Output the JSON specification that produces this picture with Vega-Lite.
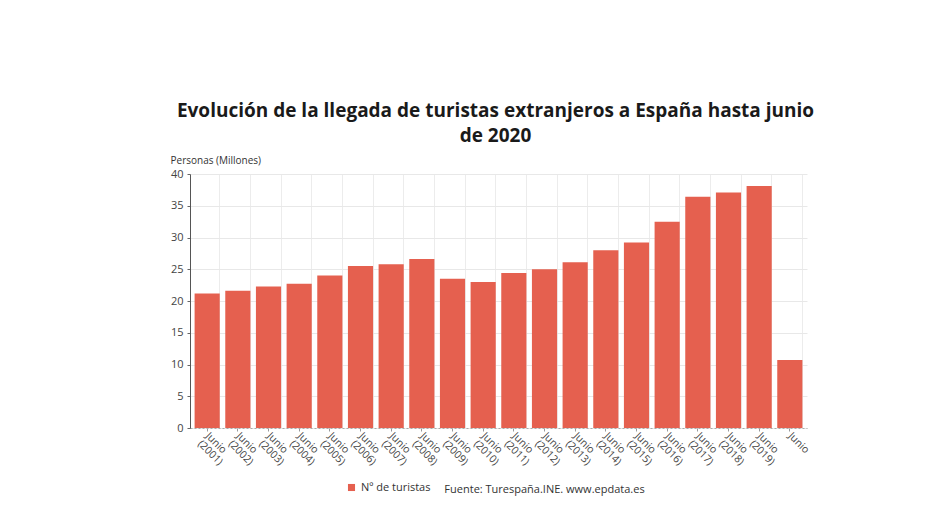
{
  "$schema": "https://vega.github.io/schema/vega-lite/v6.json",
  "autosize": "none",
  "width": 617,
  "height": 254,
  "padding": {"left": 190, "top": 174, "right": 133, "bottom": 101},
  "background": "white",
  "config": {
    "font": "Open Sans",
    "view": {"stroke": null}
  },
  "title": {
    "text": ["Evolución de la llegada de turistas extranjeros a España hasta junio", "de 2020"],
    "font": "Open Sans",
    "fontSize": 19,
    "fontWeight": "bold",
    "color": "#1a1a1a",
    "anchor": "middle",
    "dx": -3,
    "lineHeight": 25,
    "offset": 9
  },
  "data": {
    "values": [
      {"periodo": "Junio (2001)", "serie": "Nº de turistas", "turistas": 21.2},
      {"periodo": "Junio (2002)", "serie": "Nº de turistas", "turistas": 21.6},
      {"periodo": "Junio (2003)", "serie": "Nº de turistas", "turistas": 22.3},
      {"periodo": "Junio (2004)", "serie": "Nº de turistas", "turistas": 22.7},
      {"periodo": "Junio (2005)", "serie": "Nº de turistas", "turistas": 24.0},
      {"periodo": "Junio (2006)", "serie": "Nº de turistas", "turistas": 25.5},
      {"periodo": "Junio (2007)", "serie": "Nº de turistas", "turistas": 25.8},
      {"periodo": "Junio (2008)", "serie": "Nº de turistas", "turistas": 26.6},
      {"periodo": "Junio (2009)", "serie": "Nº de turistas", "turistas": 23.5},
      {"periodo": "Junio (2010)", "serie": "Nº de turistas", "turistas": 23.0},
      {"periodo": "Junio (2011)", "serie": "Nº de turistas", "turistas": 24.4},
      {"periodo": "Junio (2012)", "serie": "Nº de turistas", "turistas": 25.0},
      {"periodo": "Junio (2013)", "serie": "Nº de turistas", "turistas": 26.1},
      {"periodo": "Junio (2014)", "serie": "Nº de turistas", "turistas": 28.0},
      {"periodo": "Junio (2015)", "serie": "Nº de turistas", "turistas": 29.2},
      {"periodo": "Junio (2016)", "serie": "Nº de turistas", "turistas": 32.5},
      {"periodo": "Junio (2017)", "serie": "Nº de turistas", "turistas": 36.4},
      {"periodo": "Junio (2018)", "serie": "Nº de turistas", "turistas": 37.1},
      {"periodo": "Junio (2019)", "serie": "Nº de turistas", "turistas": 38.1},
      {"periodo": "Junio", "serie": "Nº de turistas", "turistas": 10.7}
    ]
  },
  "resolve": {"axis": {"x": "independent"}},
  "layer": [
    {
      "mark": {"type": "bar", "opacity": 0},
      "encoding": {
        "x": {
          "field": "periodo",
          "type": "nominal",
          "sort": null,
          "scale": {"paddingInner": 0.18, "paddingOuter": 0.15},
          "axis": {
            "orient": "top",
            "title": null,
            "labels": false,
            "ticks": false,
            "domain": false,
            "grid": true,
            "gridColor": "#ececec",
            "gridWidth": 1,
            "bandPosition": 1
          }
        }
      }
    },
    {
      "mark": {"type": "bar", "color": "#e5604f"},
      "encoding": {
        "x": {
          "field": "periodo",
          "type": "nominal",
          "sort": null,
          "axis": {
            "title": "Fuente: Turespaña.INE. www.epdata.es",
            "titleFont": "Open Sans",
            "titleFontSize": 11,
            "titleFontWeight": "normal",
            "titleColor": "#333333",
            "titleAnchor": null,
            "titleAlign": "center",
            "titleBaseline": "alphabetic",
            "titleX": 354,
            "titleY": 64,
            "labelAngle": 45,
            "labelAlign": "left",
            "labelBaseline": "middle",
            "labelFontSize": 10.5,
            "labelColor": "#444444",
            "labelExpr": "split(datum.label, ' ')",
            "labelLineHeight": 11,
            "labelPadding": 3,
            "labelOverlap": false,
            "ticks": true,
            "tickColor": "#999999",
            "tickSize": 3,
            "domainColor": "#aaaaaa",
            "domainDash": [2, 2],
            "grid": false
          }
        },
        "y": {
          "field": "turistas",
          "type": "quantitative",
          "scale": {"domain": [0, 40]},
          "axis": {
            "title": "Personas (Millones)",
            "titleFont": "Open Sans",
            "titleFontSize": 10,
            "titleFontWeight": "normal",
            "titleColor": "#333333",
            "titleAngle": 0,
            "titleAlign": "left",
            "titleBaseline": "alphabetic",
            "titleX": -20,
            "titleY": -11,
            "values": [0, 5, 10, 15, 20, 25, 30, 35, 40],
            "labelOverlap": false,
            "labelFontSize": 11,
            "labelColor": "#444444",
            "labelPadding": 4,
            "tickSize": 3,
            "tickColor": "#666666",
            "domainColor": "#555555",
            "grid": true,
            "gridColor": "#e8e8e8"
          }
        },
        "color": {
          "field": "serie",
          "type": "nominal",
          "scale": {"range": ["#e5604f"]},
          "legend": {
            "title": null,
            "orient": "none",
            "legendX": 156,
            "legendY": 308,
            "symbolType": "square",
            "symbolSize": 50,
            "labelFontSize": 11,
            "labelColor": "#333333",
            "labelFont": "Open Sans"
          }
        }
      }
    }
  ]
}
